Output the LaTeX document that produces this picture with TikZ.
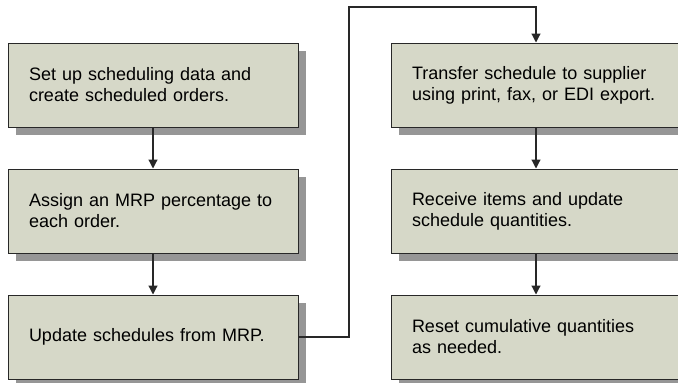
\documentclass[tikz,border=0pt]{standalone}
\usepackage{fontspec}
\setmainfont{Liberation Sans}
\usepackage{tikz}
\usetikzlibrary{shadows}
\usetikzlibrary{arrows.meta}
\usetikzlibrary{positioning}

\definecolor{boxfill}{RGB}{214,216,200}
\definecolor{boxshade}{RGB}{150,150,150}
\definecolor{boxline}{RGB}{40,40,40}

\tikzset{
  stepbox/.style={draw=boxline, line width=1pt, fill=boxfill,
    drop shadow={shadow xshift=8pt, shadow yshift=-8pt, fill=boxshade, opacity=1},
    text width=248pt, inner xsep=21pt, inner ysep=0pt,
    minimum height=84pt, align=left,
    font=\fontsize{18}{21}\selectfont},
  flow/.style={draw=boxline, line width=1.2pt, -{Triangle[width=9pt,length=9pt]}}
}

\begin{document}
\begin{tikzpicture}[x=1pt, y=-1pt]

    \useasboundingbox (0,0) rectangle (678,383);

    % left column
    \node[stepbox] (setup)  at (153,85)  {Set up scheduling data and\\create scheduled orders.};
    \node[stepbox] (assign) at (153,211) {Assign an MRP percentage to\\each order.};
    \node[stepbox] (upd)    at (153,337) {Update schedules from MRP.};

    % right column
    \node[stepbox] (xfer)   at (536,85)  {Transfer schedule to supplier\\using print, fax, or EDI export.};
    \node[stepbox] (recv)   at (536,211) {Receive items and update\\schedule quantities.};
    \node[stepbox] (reset)  at (536,337) {Reset cumulative quantities\\as needed.};

    \coordinate (turn) at (349,7);

    \draw[flow] (setup) -- (assign);
    \draw[flow] (assign) -- (upd);
    \draw[flow] (upd.east) -| (turn) -| (xfer.north);
    \draw[flow] (xfer) -- (recv);
    \draw[flow] (recv) -- (reset);

\end{tikzpicture}
\end{document}
